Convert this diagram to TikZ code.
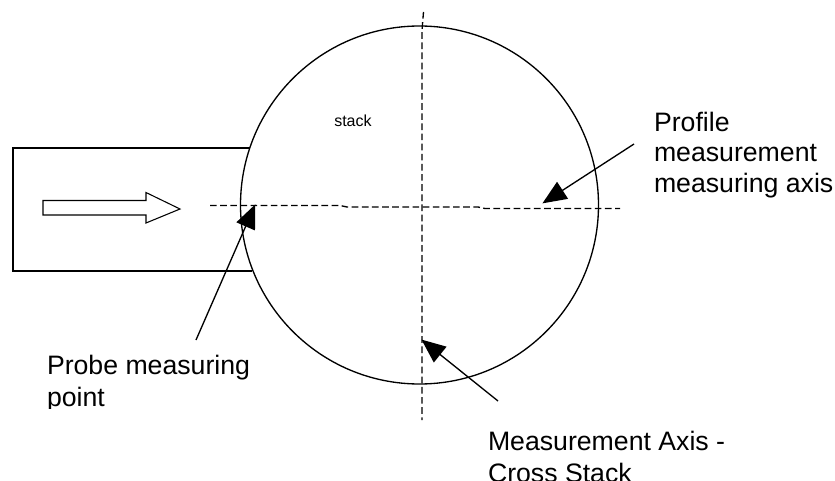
\documentclass[tikz,border=0pt]{standalone}
\usepackage{fontspec}
\setmainfont{Liberation Sans}
\usetikzlibrary{arrows.meta}
\tikzset{
  line/.style={draw=black,line width=1pt},
  leader/.style={draw=black,line width=1pt,-{Triangle[length=18pt,width=15pt]},shorten >=-0.5pt},
  axis/.style={draw=black,line width=1pt,dash pattern=on 5pt off 2.6pt},
  lbl/.style={anchor=north west,inner sep=0pt,outer sep=0pt,align=left,text=black},
}
\begin{document}
\begin{tikzpicture}[x=0.75pt,y=-0.75pt]
\useasboundingbox (0,0) rectangle (835,481);
% duct
\draw[line] (250,148) -- (13,148) -- (13,271) -- (252,271);
% stack
\node[circle,line,minimum size=268.5pt,inner sep=0pt,outer sep=0pt] (stackc) at (419.5,205) {};
% flow arrow
\draw[line width=0.8pt] (43,200.5) -- (146,200.5) -- (146,192.5) -- (180,209) -- (146,223) -- (146,215) -- (43,215) -- cycle;
% axes
\coordinate (hl) at (210,205.5);
\coordinate (hr) at (620,208.5);
\coordinate (vt) at (423.5,12);
\coordinate (vb) at (422,420);
\draw[axis] (hl) -- (340,205.5) -- (347,207) -- (478,207) -- (485,208.5) -- (hr);
\draw[axis] (vt) -- (422,30) -- (vb);
% text
\node[inner sep=0pt,anchor=base west,font=\fontsize{12}{14}\selectfont] (stacklbl) at (334,127) {stack};
\node[lbl,font=\fontsize{20}{23}\selectfont] (profile) at (654,112) {Profile\\measurement\\measuring axis};
\begin{scope}
\clip (0,0) rectangle (835,408);
\node[lbl,font=\fontsize{20}{24}\selectfont] (probe) at (47,355.5) {Probe measuring\\point};
\end{scope}
\node[lbl,font=\fontsize{20}{23.5}\selectfont] (cross) at (488,431.5) {Measurement Axis -\\Cross Stack};
% leaders
\coordinate (p0) at (196,340);
\coordinate (p1) at (255,205);
\coordinate (q0) at (634,144);
\coordinate (q1) at (543,203);
\coordinate (r0) at (498,401);
\coordinate (r1) at (422,340);
\draw[leader] (p0) -- (p1);
\draw[leader] (q0) -- (q1);
\draw[leader] (r0) -- (r1);
\end{tikzpicture}
\end{document}
